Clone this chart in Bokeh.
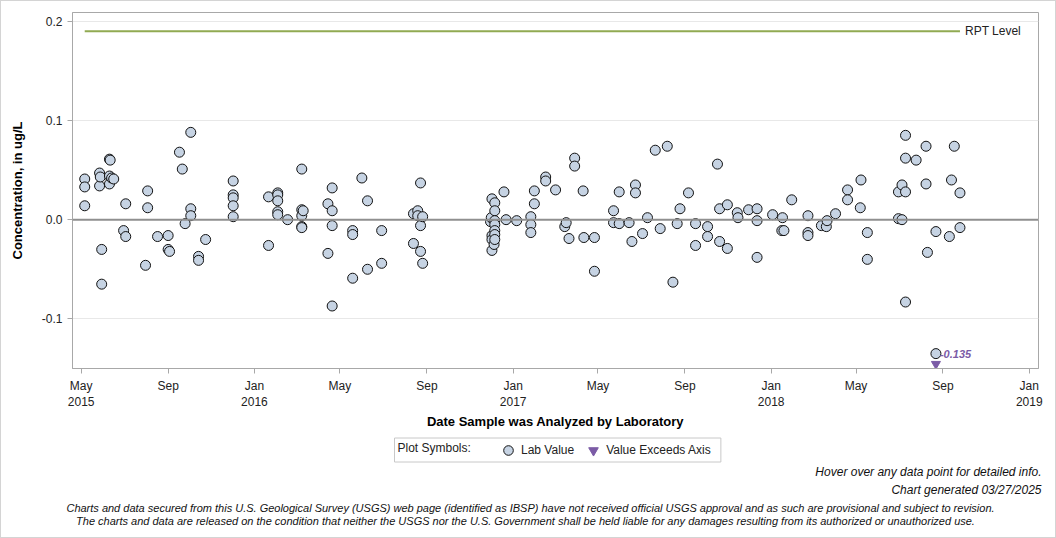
from datetime import datetime

import pandas as pd
from bokeh.embed import file_html
from bokeh.layouts import column
from bokeh.models import (ColumnDataSource, FixedTicker, HoverTool, Label, Legend,
                          LegendItem, PrintfTickFormatter, Range1d, Span)
from bokeh.plotting import figure
from bokeh.resources import INLINE

# ---------------------------------------------------------------------------
# Laboratory results (concentration in ug/L) by date analyzed
# ---------------------------------------------------------------------------
sample_dates = [
    "2015-05-06", "2015-05-06", "2015-05-06", "2015-05-27", "2015-05-27", "2015-05-28",
    "2015-05-30", "2015-05-30", "2015-06-10", "2015-06-10", "2015-06-10", "2015-06-11",
    "2015-06-13", "2015-06-16", "2015-06-30", "2015-07-03", "2015-07-03", "2015-07-31",
    "2015-08-03", "2015-08-03", "2015-08-17", "2015-09-01", "2015-09-01", "2015-09-03",
    "2015-09-17", "2015-09-21", "2015-09-25", "2015-10-03", "2015-10-03", "2015-10-03",
    "2015-10-14", "2015-10-14", "2015-10-24", "2015-12-02", "2015-12-02", "2015-12-02",
    "2015-12-02", "2015-12-02", "2016-01-21", "2016-01-21", "2016-02-03", "2016-02-03",
    "2016-02-03", "2016-02-03", "2016-02-03", "2016-02-17", "2016-03-08", "2016-03-08",
    "2016-03-08", "2016-03-08", "2016-03-08", "2016-03-10", "2016-04-14", "2016-04-14",
    "2016-04-20", "2016-04-20", "2016-04-20", "2016-04-20", "2016-05-19", "2016-05-19",
    "2016-05-19", "2016-06-01", "2016-06-09", "2016-06-09", "2016-06-29", "2016-06-29",
    "2016-08-13", "2016-08-13", "2016-08-19", "2016-08-19", "2016-08-23", "2016-08-23",
    "2016-08-23", "2016-08-26", "2016-08-26", "2016-11-30", "2016-12-01", "2016-12-02",
    "2016-12-02", "2016-12-02", "2016-12-02", "2016-12-05", "2016-12-06", "2016-12-06",
    "2016-12-06", "2016-12-06", "2016-12-06", "2016-12-06", "2016-12-06", "2016-12-19",
    "2016-12-22", "2017-01-06", "2017-01-26", "2017-01-26", "2017-01-26", "2017-01-31",
    "2017-01-31", "2017-02-16", "2017-02-16", "2017-03-02", "2017-03-15", "2017-03-17",
    "2017-03-21", "2017-03-29", "2017-03-29", "2017-04-10", "2017-04-11", "2017-04-26",
    "2017-04-26", "2017-05-23", "2017-05-23", "2017-05-31", "2017-05-31", "2017-06-14",
    "2017-06-18", "2017-06-23", "2017-06-23", "2017-07-03", "2017-07-10", "2017-07-21",
    "2017-07-28", "2017-08-07", "2017-08-15", "2017-08-21", "2017-08-25", "2017-09-06",
    "2017-09-16", "2017-09-16", "2017-10-03", "2017-10-03", "2017-10-17", "2017-10-20",
    "2017-10-20", "2017-10-31", "2017-10-31", "2017-11-14", "2017-11-15", "2017-11-30",
    "2017-12-12", "2017-12-12", "2017-12-12", "2018-01-03", "2018-01-16", "2018-01-17",
    "2018-01-19", "2018-01-30", "2018-02-22", "2018-02-22", "2018-02-22", "2018-03-13",
    "2018-03-20", "2018-03-21", "2018-04-02", "2018-04-19", "2018-04-19", "2018-05-07",
    "2018-05-08", "2018-05-17", "2018-05-17", "2018-06-30", "2018-06-30", "2018-07-05",
    "2018-07-05", "2018-07-10", "2018-07-10", "2018-07-10", "2018-07-10", "2018-07-25",
    "2018-08-08", "2018-08-08", "2018-08-10", "2018-08-22", "2018-08-22", "2018-09-10",
    "2018-09-13", "2018-09-17", "2018-09-25", "2018-09-25",
]
concentrations = [
    0.041, 0.033, 0.014, 0.047, 0.034, 0.043,
    -0.030, -0.065, 0.061, 0.044, 0.036, 0.060,
    0.042, 0.041, -0.011, 0.016, -0.017, -0.046,
    0.029, 0.012, -0.017, -0.016, -0.030, -0.032,
    0.068, 0.051, -0.004, 0.088, 0.011, 0.004,
    -0.037, -0.041, -0.020, 0.039, 0.025, 0.022,
    0.014, 0.003, 0.023, -0.026, 0.027, 0.025,
    0.019, 0.008, 0.005, 0.000, 0.051, 0.010,
    0.004, -0.007, -0.008, 0.009, 0.016, -0.034,
    0.032, 0.009, -0.006, -0.087, -0.011, -0.015,
    -0.059, 0.042, 0.019, -0.050, -0.011, -0.044,
    0.006, -0.024, 0.009, 0.004, 0.037, -0.006,
    -0.032, 0.003, -0.044, -0.002, 0.002, 0.021,
    -0.016, -0.020, -0.031, -0.025, 0.017, 0.009,
    -0.001, -0.005, -0.011, -0.015, -0.020, 0.028,
    0.000, -0.001, 0.003, -0.005, -0.013, 0.029,
    0.016, 0.043, 0.039, 0.030, -0.007, -0.003,
    -0.019, 0.062, 0.054, 0.029, -0.018, -0.018,
    -0.052, 0.009, -0.003, 0.028, -0.004, -0.003,
    -0.022, 0.035, 0.027, -0.014, 0.002, 0.070,
    -0.009, 0.074, -0.063, -0.004, 0.011, 0.027,
    -0.004, -0.026, -0.007, -0.017, 0.056, 0.011,
    -0.022, 0.015, -0.029, 0.007, 0.002, 0.010,
    0.011, -0.001, -0.038, 0.005, -0.011, 0.002,
    -0.011, 0.020, 0.004, -0.013, -0.016, -0.006,
    -0.007, -0.001, 0.006, 0.030, 0.020, 0.012,
    0.040, -0.013, -0.040, 0.028, 0.001, 0.035,
    0.000, 0.085, 0.062, 0.028, -0.083, 0.060,
    0.074, 0.036, -0.033, -0.012, -0.135, -0.017,
    0.040, 0.074, 0.027, -0.008,
]

# Reporting level (ug/L)
rpt_level = 0.19

# Results flagged at the bottom of the axis
flagged_dates = ["2018-08-22"]
flagged_values = [-0.135]

# Axis ticks
x_tick_dates = ["2015-05-01", "2015-09-01", "2016-01-01", "2016-05-01", "2016-09-01",
                "2017-01-01", "2017-05-01", "2017-09-01", "2018-01-01", "2018-05-01",
                "2018-09-01", "2019-01-01"]
x_tick_labels = ["May\n2015", "Sep", "Jan\n2016", "May", "Sep", "Jan\n2017", "May", "Sep",
                 "Jan\n2018", "May", "Sep", "Jan\n2019"]
y_ticks = [-0.1, 0.0, 0.1, 0.2]

FONT = "Liberation Sans"
PURPLE = "#7b5ba6"
PT_FILL = "#c6d3e3"
PT_LINE = "#111111"
TEXT = "#222222"


def to_ms(d):
    return int(pd.Timestamp(d).value // 10**6)


dates = pd.to_datetime(sample_dates)
source = ColumnDataSource(dict(date=dates, conc=concentrations))

# ---------------------------------------------------------------------------
# Main time-series panel
# ---------------------------------------------------------------------------
Y_START, Y_END = -0.150, 0.2088
p = figure(
    width=1054, height=431,
    output_backend="svg", toolbar_location=None, tools="",
    x_axis_type="datetime",
    x_range=Range1d(datetime(2015, 4, 18, 17), datetime(2019, 1, 14, 2)),
    y_range=Range1d(Y_START, Y_END),
    min_border_left=71, min_border_right=17, min_border_top=11, min_border_bottom=64,
    background_fill_color="white", border_fill_color="white",
)
p.outline_line_color = "#a8a8a8"
p.outline_line_width = 1

# grid: horizontal only, with a heavier reference line at zero
p.xgrid.grid_line_color = None
p.ygrid.ticker = FixedTicker(ticks=y_ticks)
p.ygrid.grid_line_color = "#e8e8e8"
p.add_layout(Span(location=0, dimension="width", line_color="#8f8f8f", line_width=2))

# axes
for ax in (p.xaxis[0], p.yaxis[0]):
    ax.axis_line_color = "#a8a8a8"
    ax.major_tick_line_color = "#a8a8a8"
    ax.major_tick_in = 0
    ax.major_tick_out = 5
    ax.minor_tick_line_color = None
    ax.major_label_text_font = FONT
    ax.major_label_text_font_size = "12px"
    ax.major_label_text_color = TEXT
    ax.axis_label_text_font = FONT
    ax.axis_label_text_font_size = "13px"
    ax.axis_label_text_font_style = "bold"
    ax.axis_label_text_color = "#000000"

p.xaxis.ticker = FixedTicker(ticks=[to_ms(d) for d in x_tick_dates])
p.xaxis.major_label_overrides = {to_ms(d): lab for d, lab in zip(x_tick_dates, x_tick_labels)}
p.xaxis.axis_label = "Date Sample was Analyzed by Laboratory"
p.xaxis.axis_label_standoff = 2

p.yaxis.ticker = FixedTicker(ticks=y_ticks)
p.yaxis.formatter = PrintfTickFormatter(format="%.1f")
p.yaxis.axis_label = "Concentration, in ug/L"
p.yaxis.axis_label_standoff = 14

# reporting level line across the sampled period
first, last = min(dates), max(dates)
p.line(x=[first, last], y=[rpt_level, rpt_level], line_color="#91aa52", line_width=2)
p.add_layout(Label(x=to_ms(last), y=rpt_level, x_offset=5, text="RPT Level",
                   text_baseline="middle", text_font=FONT, text_font_size="12px",
                   text_color=TEXT))

# lab values
pts = p.scatter("date", "conc", source=source, marker="circle", size=10,
                fill_color=PT_FILL, line_color=PT_LINE, line_width=1)
p.add_tools(HoverTool(renderers=[pts], tooltips=[("Date", "@date{%F}"), ("Value", "@conc{0.000}")],
                      formatters={"@date": "datetime"}))

# flag markers at the bottom of the axis, with the value written beside the point
p.scatter(x=pd.to_datetime(flagged_dates), y=[Y_START + 0.0045] * len(flagged_dates),
          marker="inverted_triangle", size=9, fill_color=PURPLE, line_color=PURPLE)
for d, v in zip(flagged_dates, flagged_values):
    p.add_layout(Label(x=to_ms(d), y=v, x_offset=4, text=f"{v:.3f}", text_baseline="middle",
                       text_font=FONT, text_font_size="11px",
                       text_font_style="bold italic", text_color=PURPLE))

# ---------------------------------------------------------------------------
# Symbol key and notes (x in page pixels, y measured downward)
# ---------------------------------------------------------------------------
key = figure(
    width=1054, height=105,
    output_backend="svg", toolbar_location=None, tools="",
    x_range=Range1d(1, 1055), y_range=Range1d(105, 0),
    x_axis_type=None, y_axis_type=None,
    min_border=0, outline_line_color=None, frame_align=False,
    background_fill_color="white", border_fill_color="white",
)
key.grid.visible = False

key.add_layout(Label(x=394, y=17.5, text="Plot Symbols:", text_baseline="middle",
                     text_font=FONT, text_font_size="12px", text_color=TEXT,
                     padding=(3, 250, 3, 7), border_line_color="#c8c8c8",
                     background_fill_color="white"))

# proxy renderers (no visible points) that give the key its symbols
nan = float("nan")
lab_key = key.scatter(x=[nan], y=[nan], marker="circle", fill_color=PT_FILL, line_color=PT_LINE)
flag_key = key.scatter(x=[nan], y=[nan], marker="inverted_triangle",
                       fill_color=PURPLE, line_color=PURPLE)
key.add_layout(Legend(
    items=[LegendItem(label="Lab Value", renderers=[lab_key]),
           LegendItem(label="Value Exceeds Axis", renderers=[flag_key])],
    orientation="horizontal", location=(495, 75.5),
    label_text_font=FONT, label_text_font_size="12px", label_text_color=TEXT,
    glyph_width=24, glyph_height=24, label_standoff=1, spacing=7, padding=0, margin=0,
    border_line_color=None, background_fill_alpha=0,
))

notes = [
    ("Hover over any data point for detailed info.", 1041, 39, "right", "12px"),
    ("Chart generated 03/27/2025", 1041, 57, "right", "12px"),
    ("Charts and data secured from this U.S. Geological Survey (USGS) web page (identified as IBSP) "
     "have not received official USGS approval and as such are provisional and subject to revision.",
     530, 75, "center", "11px"),
    ("The charts and data are released on the condition that neither the USGS nor the U.S. Government "
     "shall be held liable for any damages resulting from its authorized or unauthorized use.",
     525, 88, "center", "11px"),
]
for text, x, y, align, size in notes:
    key.add_layout(Label(x=x, y=y, text=text, text_align=align, text_baseline="middle",
                         text_font=FONT, text_font_size=size, text_font_style="italic",
                         text_color="#111111"))

# thin light-gray frame around the whole page
page = column(p, key, spacing=0, styles={"border": "1px solid #d4d4d4"})
open("out.html", "w").write(file_html(page, INLINE))
